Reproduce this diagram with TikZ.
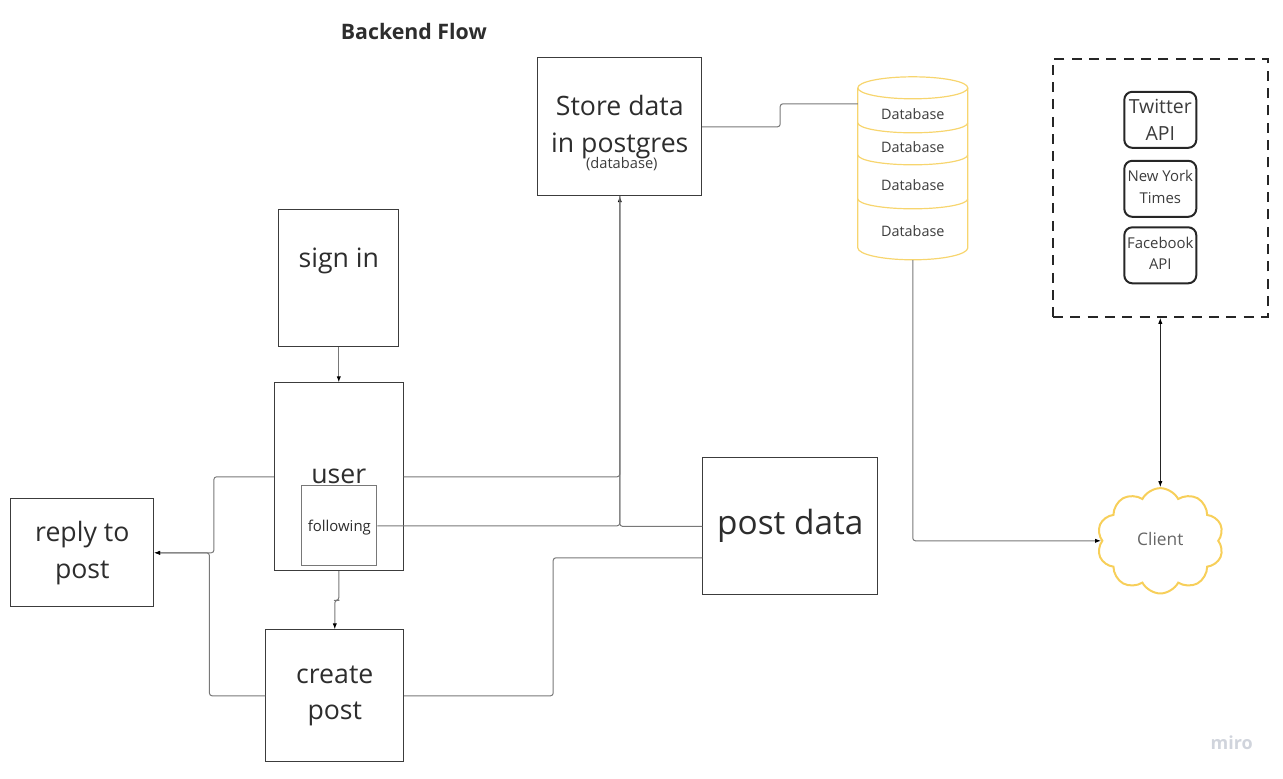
\documentclass[tikz,border=0pt]{standalone}
\usepackage{fontspec}
\setmainfont{Open Sans}
\usepackage{tikz}
\usetikzlibrary{calc, arrows.meta, shapes.symbols}
\tikzset{>={Latex[length=4.5pt,width=3.2pt,black]}}
\definecolor{sdark}{RGB}{60, 60, 60}
\definecolor{sline}{RGB}{120, 120, 120}
\definecolor{stext}{RGB}{45, 45, 45}
\definecolor{syellow}{RGB}{247, 213, 110}
\definecolor{scloud}{RGB}{247, 207, 90}
\definecolor{smiro}{RGB}{208, 212, 220}

\begin{document}
\begin{tikzpicture}[
    x=0.75pt, y=-0.75pt,
    box/.style n args={3}{rectangle,draw=sdark,line width=0.6pt,inner sep=0pt,align=center,text=stext,
      minimum width=#1*0.75pt,minimum height=#2*0.75pt,font=\fontsize{#3}{27.5}\selectfont},
    api/.style={rectangle,rounded corners=6pt,draw=black!85,line width=1.5pt,inner sep=0pt,align=center,
      text=sdark,minimum width=54pt,minimum height=42pt},
    link/.style={draw=sline,line width=0.75pt,rounded corners=2pt},
    dbpart/.style={rectangle,inner sep=0pt,minimum width=82.5pt,text=sdark,font=\fontsize{10.8}{13}\selectfont}
  ]

  \useasboundingbox (0.2,0.2) rectangle (1283.2,779.2);

  \node[font=\fontsize{16}{19}\selectfont\bfseries,text=stext,inner sep=0pt] (title) at (414,32) {Backend Flow};

  % boxes on the left
  \node[box={120}{137}{20},text depth=31pt] (signin) at (339,278.5) {sign in};
  \node[box={129}{188}{20}] (user) at (339,477) {};
  \node[text=stext,inner sep=0pt,font=\fontsize{20}{24}\selectfont] (usertext) at (339,477) {user};
  \node[box={75}{80}{11.2},fill=white,draw=sline,line width=0.85pt,text height=10.5pt] (following) at (339.5,526) {following};
  \node[box={143}{108}{20}] (reply) at (82.5,553) {reply to\\post};
  \node[box={138}{132}{20}] (create) at (335,696) {create\\post};
  \node[box={175}{137}{25}] (post) at (790.5,526.5) {post data};
  \node[box={164}{138}{20}] (store) at (620,127) {Store data\\in postgres};
  \node[inner sep=0pt,text=sdark,font=\fontsize{11}{13}\selectfont] (storenote) at (622,164) {(database)};

  % database stack
  \foreach \name/\ypos/\high in {dbA/114/30, dbB/147/30, dbC/185/30, dbD/231/58} {
    \node[dbpart,minimum height=\high*0.75pt] (\name) at (913,\ypos) {Database};
  }
  \draw[syellow,line width=0.9pt] (858,88) arc (180:540:55 and 11);
  \draw[syellow,line width=0.9pt] (858,88) -- (858,248) arc (180:0:55 and 12) -- (968,88);
  \foreach \ypos in {123,155,199} {
    \draw[syellow,line width=0.9pt] (858,\ypos) arc (180:0:55 and 10);
  }
  \coordinate (dbin) at (858,104);

  % external sources
  \node[rectangle,draw=black!85,line width=1.5pt,dash pattern=on 7.5pt off 5.5pt,minimum width=161pt,minimum height=193.5pt,inner sep=0pt] (sources) at (1160.5,188) {};
  \node[api,font=\fontsize{14.6}{20}\selectfont] (twitter) at (1160.5,120) {Twitter\\API};
  \node[api,font=\fontsize{11.2}{15.8}\selectfont] (nyt) at (1160.5,189) {New York\\Times\rule[-3pt]{0pt}{3pt}};
  \node[api,font=\fontsize{11.2}{15.8}\selectfont] (facebook) at (1160.5,255.5) {Facebook\\API\rule[-3pt]{0pt}{3pt}};

  \node[cloud,cloud puffs=10,cloud puff arc=125,aspect=1.2,draw=scloud,line width=1.5pt,inner sep=0pt,
    minimum width=95pt,minimum height=79pt,text depth=3pt,text=sline!85!black,font=\fontsize{13}{15}\selectfont] (client) at (1160.5,541) {Client};

  % connectors
  \draw[link,->] (signin) -- (user);
  \draw[link,->] (user.south) |- ($(user.south)!0.5!(create.north)$) -| (create.north);
  \draw[link,->] (user.west) -- ++(-60,0) |- (reply.east);
  \draw[link,->] (create.west) -- ++(-56,0) |- (reply.east);
  \draw[link,->] (user.east) -| (store.south);
  \draw[link] (following.east) -| (store.south);
  \draw[link] (post.west) -| (store.south);
  \draw[link] (create.east) -- ++(149,0) |- ($(post.west)+(0,31.5)$);
  \draw[link] (store.east) -- ++(78,0) |- (dbin);
  \draw[link,->] (dbD.south) |- (client.west);
  \draw[<->,black!85,line width=0.7pt] (sources.south) -- (client.north);

  \node[text=smiro,inner sep=0pt,font=\fontsize{13.5}{16}\selectfont\bfseries] (miro) at (1232,743) {miro};

\end{tikzpicture}
\end{document}
